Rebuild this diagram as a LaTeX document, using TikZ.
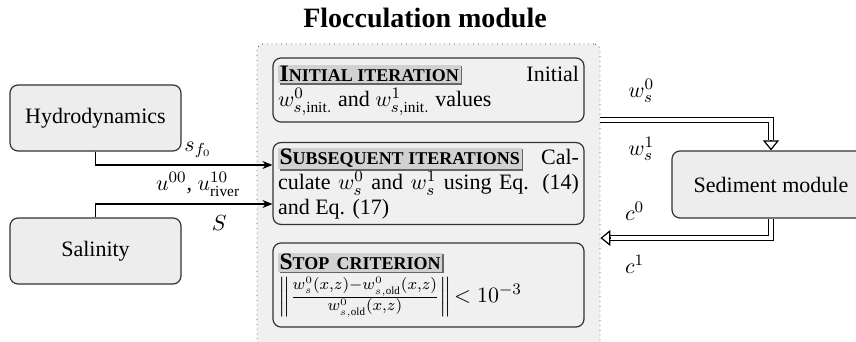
\documentclass[tikz,border=0pt]{standalone}
\usepackage{amsmath,amssymb}
\usepackage{fontspec}
\setmainfont{Liberation Serif}
\usepackage{tikz}
\usetikzlibrary{arrows.meta}

\tikzset{
  module/.style={draw=black!80, line width=0.6pt, fill=black!7, rounded corners=4pt},
  stepbox/.style={draw=black!80, line width=0.6pt, fill=black!6, rounded corners=4pt,
    inner sep=2.5pt, text width=150.5pt, align=justify, minimum width=155.5pt},
  container/.style={draw=black!70, dotted, fill=black!6, rounded corners=3pt},
  flow/.style={->, >={Stealth[length=5pt, width=4pt]}, line width=0.6pt},
  dflow/.style={double, double distance=2pt, line width=0.5pt, shorten >=5pt},
  dtip/.style={-{Triangle[open, length=5pt, width=8pt]}, line width=0.6pt},
}
\newcommand{\steplabel}[2]{{\setlength{\fboxsep}{0.8pt}%
  \sbox0{\colorbox{black!18}{\textbf{{\fontsize{11.8}{13}\selectfont #1}{\fontsize{9}{11}\selectfont #2}}}}%
  \rlap{\hspace{0.8pt}\raisebox{-0.8pt}{\textcolor{black!60}{\rule[-\dp0]{\wd0}{\dimexpr\ht0+\dp0\relax}}}}%
  \usebox0}}

\begin{document}
\begin{tikzpicture}[x=0.5pt, y=-0.5pt, font=\fontsize{11}{12.5}\selectfont]
	      \useasboundingbox (0,0) rectangle (856,342);
	      % flocculation module and its steps
	      \node[font=\fontsize{14}{16}\selectfont\bfseries] (title) at (425,18) {Flocculation module};
	      \node[container, minimum width=171.5pt, minimum height=152pt] (floc) at (428.5,196) {};
	      \node[stepbox, minimum height=32pt] (init) at (428.5,90)
	        {\steplabel{I}{NITIAL ITERATION} Initial\linebreak
	         $w^0_{s,\mathrm{init.}}$ and $w^1_{s,\mathrm{init.}}$ values};
	      \node[stepbox, minimum height=38.5pt] (subs) at (428.5,183.5)
	        {\steplabel{S}{UBSEQUENT ITERATIONS} Cal-\linebreak
	         culate $w^0_s$ and $w^1_s$ using Eq. (14)\linebreak and Eq. (17)};
	      \node[stepbox, minimum height=42pt, align=left] (stop) at (428.5,285)
	        {\steplabel{S}{TOP CRITERION}\\[1pt]
	         $\left\|\frac{w^0_s(x,z)-w^0_{s,\mathrm{old}}(x,z)}{w^0_{s,\mathrm{old}}(x,z)}\right\|\!<10^{-3}$};
	      % other modules
	      \node[module, minimum width=85.5pt, minimum height=33pt] (hyd) at (95.5,118) {Hydrodynamics};
	      \node[module, minimum width=85.5pt, minimum height=33pt] (sal) at (95.5,251) {Salinity};
	      \node[module, minimum width=99pt, minimum height=33.5pt] (sed) at (771,184.5) {Sediment module};
	      % connectors
	      \draw[flow] (hyd.south) |- ([yshift=9.25pt]subs.west)
	        node[pos=0.79, above] {$s_{f_0}$};
	      \draw[flow] (sal.north) |- ([yshift=-10.25pt]subs.west)
	        node[pos=0.79, above] {$u^{00}$, $u^{10}_{\mathrm{river}}$}
	        node[pos=0.85, below=2pt] {$S$};
	      \coordinate (wout) at ([yshift=38pt]floc.east);
	      \coordinate (cin) at ([yshift=-21pt]floc.east);
	      \draw[dflow] (wout) -| (sed.north)
	        node[pos=0.12, above=5pt] {$w^0_s$}
	        node[pos=0.12, below=5pt] {$w^1_s$};
	      \draw[dtip] ([yshift=5pt]sed.north) -- (sed.north);
	      \draw[dflow] (sed.south) |- (cin)
	        node[pos=0.9, above=5pt] {$c^0$}
	        node[pos=0.9, below=5pt] {$c^1$};
	      \draw[dtip] ([xshift=5pt]cin) -- (cin);
	    \end{tikzpicture}
\end{document}
